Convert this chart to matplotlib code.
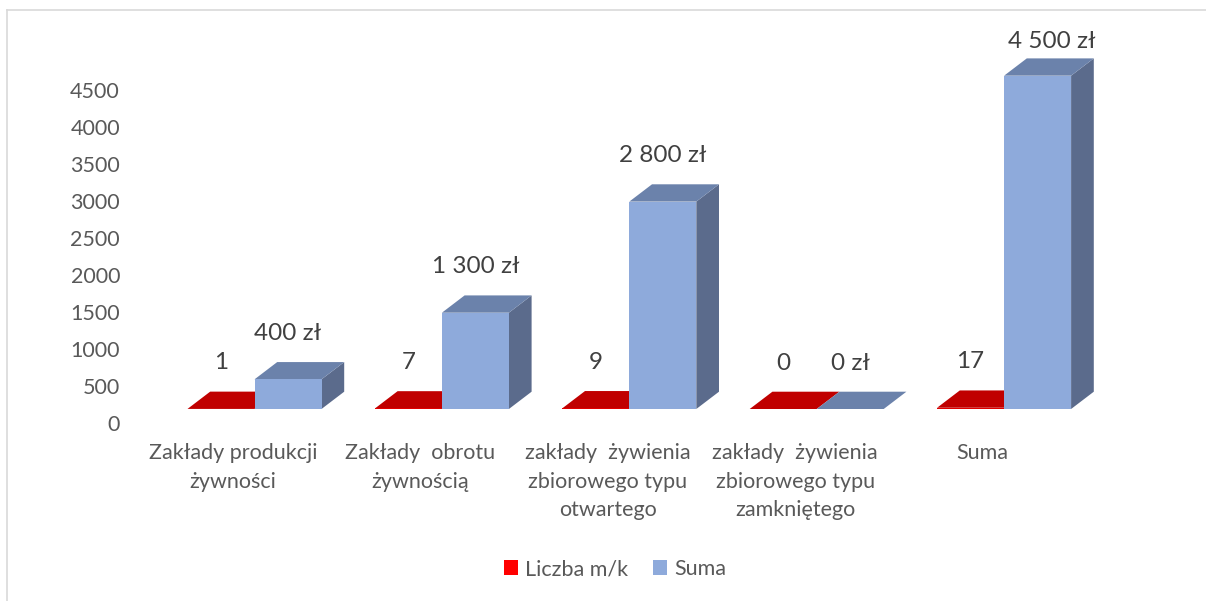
#!/usr/bin/env python3
# Pseudo-3D clustered bar chart (Excel style) drawn with plain matplotlib
import matplotlib.pyplot as plt
from matplotlib.patches import Polygon, Patch
from matplotlib.lines import Line2D

# ---- DATA ----
categories = [
    "Zakłady produkcji\nżywności",
    "Zakłady  obrotu\nżywnością",
    "zakłady  żywienia\nzbiorowego typu\notwartego",
    "zakłady  żywienia\nzbiorowego typu\nzamkniętego",
    "Suma",
]
liczba = [1, 7, 9, 0, 17]
suma = [400, 1300, 2800, 0, 4500]
series_names = ["Liczba m/k", "Suma"]
yticks = [0, 500, 1000, 1500, 2000, 2500, 3000, 3500, 4000, 4500]

# ---- STYLE ----
plt.rcParams["font.family"] = ["Lato", "DejaVu Sans"]
W, H, DPI = 1206, 601, 100
grey = "#595959"
dark = "#404040"
red = dict(front="#e00000", top="#c00000", side="#a00000", legend="#ff0000")
blue = dict(front="#8eaadb", top="#6b82ab", side="#5b6b8c", legend="#8eaadb")

# axes placement in pixels
ax_l, ax_r, ax_t, ax_b = 125, 1140, 20, 440
cat0_px, cat_step_px = 233, 187.4      # centre of first category, spacing
zero_px, px_per_unit = 423.3, 0.07407  # y pixel of value 0, pixels per unit

fig = plt.figure(figsize=(W / DPI, H / DPI), dpi=DPI)
ax = fig.add_axes([ax_l / W, 1 - ax_b / H, (ax_r - ax_l) / W, (ax_b - ax_t) / H])
ax.set_xlim((ax_l - cat0_px) / cat_step_px, (ax_r - cat0_px) / cat_step_px)
ax.set_ylim((zero_px - ax_b) / px_per_unit, (zero_px - ax_t) / px_per_unit)

# pixel sizes -> data units
def dxu(px):
    return px / cat_step_px

def dyu(px):
    return px / px_per_unit

bar_w = dxu(67)
shift_x = dxu(21.5)      # front faces sit a bit right of the label
floor = dyu(14.3)        # front floor is above the back-wall zero
depth_x, depth_y = dxu(22.7), dyu(17.3)


def draw_box(x0, h, col):
    x1 = x0 + bar_w
    top = floor + h
    # side face
    ax.add_patch(Polygon([(x1, floor), (x1 + depth_x, floor + depth_y),
                          (x1 + depth_x, top + depth_y), (x1, top)],
                         closed=True, fc=col["side"], ec="none", zorder=2))
    # top face
    ax.add_patch(Polygon([(x0, top), (x1, top), (x1 + depth_x, top + depth_y),
                          (x0 + depth_x, top + depth_y)],
                         closed=True, fc=col["top"], ec="none", zorder=2))
    # front face
    ax.bar(x0, h, width=bar_w, bottom=floor, align="edge",
           color=col["front"], edgecolor="none", zorder=3)


def label(xc, h, text):
    y = floor + h + dyu(46)
    xoff = 0
    ymax = (zero_px - 41.7) / px_per_unit
    if y > ymax:  # keep label inside the plot, nudged right like Excel does
        y = ymax
        xoff = dxu(14)
    ax.text(xc + xoff, y, text, ha="center", va="center",
            fontsize=17.5, color=dark, zorder=5)


def fmt_zl(v):
    return f"{v:,}".replace(",", " ") + " zł"


for i, (n, s) in enumerate(zip(liczba, suma)):
    xr = i + shift_x - bar_w
    xb = i + shift_x
    draw_box(xr, n, red)
    draw_box(xb, s, blue)
    label(xr + bar_w / 2, n, str(n))
    label(xb + bar_w / 2, s, fmt_zl(s))

# axes cosmetics
ax.set_yticks(yticks)
ax.set_yticklabels([str(v) for v in yticks])
ax.set_xticks(range(len(categories)))
ax.set_xticklabels(categories, linespacing=1.55)
ax.tick_params(axis="y", length=0, pad=3.6, labelsize=15.5, labelcolor=grey)
ax.tick_params(axis="x", length=0, pad=2, labelsize=15.5, labelcolor=grey)
for sp in ax.spines.values():
    sp.set_visible(False)
ax.patch.set_alpha(0)

# legend
handles = [Patch(fc=red["legend"], ec="none"), Patch(fc=blue["legend"], ec="none")]
fig.legend(handles, series_names, loc="center", bbox_to_anchor=(615 / W, 1 - 569 / H),
           ncol=2, frameon=False, fontsize=15.5, labelcolor=grey,
           handlelength=0.65, handleheight=0.65, handletextpad=0.3, columnspacing=1.2)

# chart-area border (only top and left visible in the crop)
fig.add_artist(Line2D([7 / W, 7 / W], [0, 1 - 10 / H], color="#d9d9d9", lw=1.2))
fig.add_artist(Line2D([7 / W, 1], [1 - 10 / H, 1 - 10 / H], color="#d9d9d9", lw=1.2))

fig.savefig("out.png", dpi=DPI)
